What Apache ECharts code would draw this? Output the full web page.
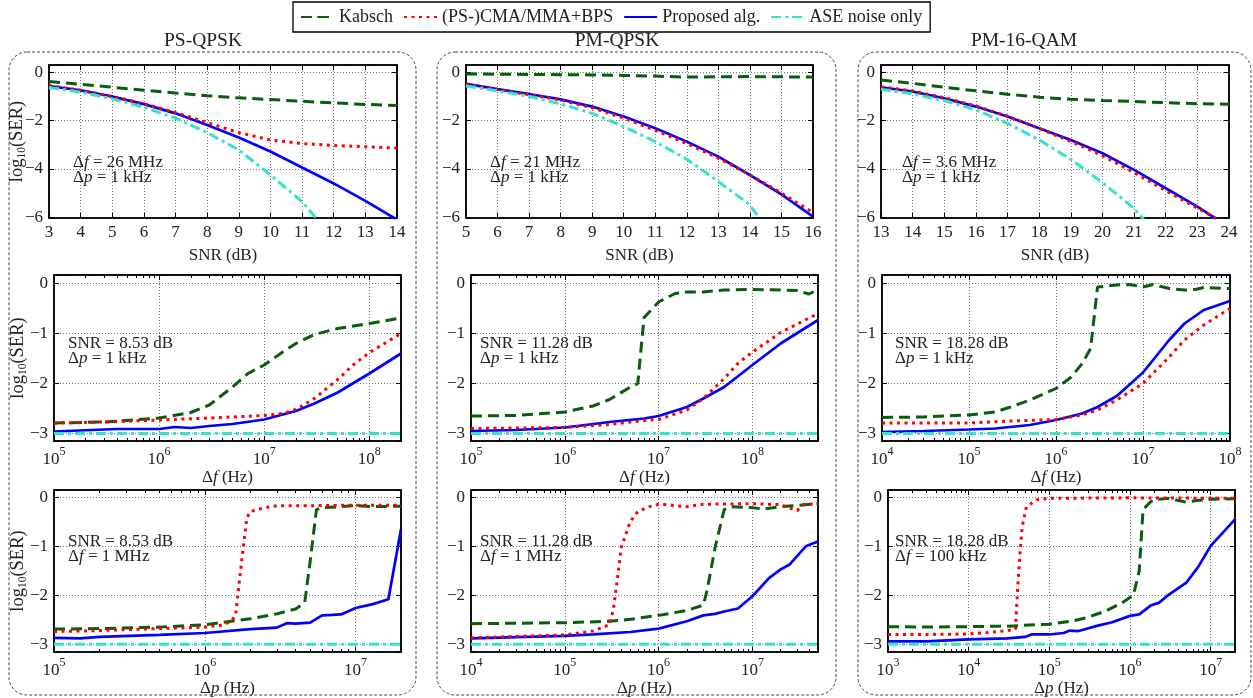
<!DOCTYPE html>
<html>
<head>
<meta charset="utf-8">
<title>log10(SER) vs SNR, Δf, Δp</title>
<script src="https://cdn.jsdelivr.net/npm/echarts@6/dist/echarts.min.js"></script>
<style>
  html, body { margin: 0; padding: 0; background: #fff; }
  #main { width: 1253px; height: 698px; }
</style>
</head>
<body>
<div id="main"></div>
<script>
// ---------- data: row 1, log10(SER) vs SNR (dB) ----------
const snrPSKabsch = [[3,-0.38],[4,-0.5],[5,-0.62],[6,-0.74],[7,-0.86],[8,-0.97],[9,-1.06],[10,-1.13],[11,-1.2],[12,-1.27],[13,-1.33],[14,-1.38]];
const snrPSCma = [[3,-0.55],[4,-0.74],[5,-1.0],[6,-1.3],[7,-1.67],[8,-2.08],[9,-2.5],[10,-2.8],[11,-2.95],[12,-3.03],[13,-3.08],[14,-3.14]];
const snrPSProp = [[3,-0.57],[4,-0.75],[5,-1.01],[6,-1.32],[7,-1.7],[8,-2.18],[9,-2.7],[10,-3.28],[11,-3.94],[12,-4.6],[13,-5.32],[14,-6.1]];
const snrPSAse = [[3,-0.63],[4,-0.82],[5,-1.1],[6,-1.45],[7,-1.9],[8,-2.5],[9,-3.21],[10,-4.25],[11,-5.35],[11.45,-6.05]];

const snrPMKabsch = [[5,-0.07],[6,-0.08],[7,-0.09],[8,-0.1],[9,-0.11],[10,-0.13],[11,-0.16],[12,-0.2],[13,-0.19],[14,-0.18],[15,-0.19],[16,-0.2]];
const snrPMCma = [[5,-0.5],[6,-0.72],[7,-0.93],[8,-1.15],[9,-1.47],[10,-1.9],[11,-2.4],[12,-2.95],[13,-3.55],[14,-4.25],[15,-5.0],[16,-5.8]];
const snrPMProp = [[5,-0.48],[6,-0.7],[7,-0.9],[8,-1.12],[9,-1.42],[10,-1.83],[11,-2.32],[12,-2.87],[13,-3.49],[14,-4.25],[15,-5.05],[16,-5.97]];
const snrPMAse = [[5,-0.57],[6,-0.77],[7,-1.0],[8,-1.31],[9,-1.7],[10,-2.25],[11,-2.87],[12,-3.6],[13,-4.52],[14,-5.49],[14.3,-6.05]];

const snrQAMKabsch = [[13,-0.32],[14,-0.46],[15,-0.62],[16,-0.77],[17,-0.91],[18,-1.03],[19,-1.12],[20,-1.17],[21,-1.21],[22,-1.26],[23,-1.3],[24,-1.32]];
const snrQAMCma = [[13,-0.6],[14,-0.78],[15,-1.05],[16,-1.4],[17,-1.82],[18,-2.33],[19,-2.86],[20,-3.45],[21,-4.15],[22,-4.9],[23,-5.62],[23.6,-6.05]];
const snrQAMProp = [[13,-0.62],[14,-0.8],[15,-1.08],[16,-1.42],[17,-1.83],[18,-2.32],[19,-2.8],[20,-3.35],[21,-4.04],[22,-4.8],[23,-5.56],[23.6,-6.07]];
const snrQAMAse = [[13,-0.7],[14,-0.9],[15,-1.17],[16,-1.56],[17,-2.11],[18,-2.8],[19,-3.6],[20,-4.57],[21,-5.63],[21.3,-6.08]];

// ---------- data: row 2, log10(SER) vs Δf (Hz) ----------
const dfPSKabsch = [[1e5,-2.79],[3e5,-2.77],[1e6,-2.69],[2e6,-2.58],[3e6,-2.43],[5e6,-2.07],[7e6,-1.8],[1e7,-1.63],[1.5e7,-1.37],[2e7,-1.2],[3e7,-1.02],[5e7,-0.9],[1e8,-0.8],[2e8,-0.69]];
const dfPSCma = [[1e5,-2.79],[3e5,-2.77],[1e6,-2.73],[3e6,-2.69],[1e7,-2.64],[1.5e7,-2.6],[2e7,-2.52],[3e7,-2.3],[5e7,-1.92],[7e7,-1.63],[1e8,-1.38],[2e8,-1.0]];
const dfPSProp = [[1e5,-2.96],[3e5,-2.92],[4e5,-2.91],[1e6,-2.91],[1.4e6,-2.87],[2e6,-2.89],[3e6,-2.85],[5e6,-2.81],[1e7,-2.72],[2e7,-2.55],[3e7,-2.4],[5e7,-2.18],[1e8,-1.8],[2e8,-1.4]];
const dfPSAse = [[1e5,-3],[2e8,-3]];

const dfPMKabsch = [[1e5,-2.65],[3e5,-2.64],[1e6,-2.57],[2e6,-2.45],[3e6,-2.32],[5e6,-2.07],[6e6,-2.0],[6.5e6,-1.3],[7e6,-0.68],[1e7,-0.37],[1.5e7,-0.2],[2e7,-0.17],[3e7,-0.17],[5e7,-0.13],[1e8,-0.12],[2e8,-0.13],[3e8,-0.14],[4e8,-0.21],[5e8,-0.12]];
const dfPMCma = [[1e5,-2.9],[1e6,-2.88],[3e6,-2.82],[7e6,-2.74],[1e7,-2.72],[2e7,-2.53],[3e7,-2.3],[5e7,-1.9],[7e7,-1.6],[1e8,-1.37],[2e8,-0.98],[5e8,-0.6]];
const dfPMProp = [[1e5,-2.95],[3e5,-2.93],[1e6,-2.88],[3e6,-2.77],[7e6,-2.7],[1e7,-2.65],[2e7,-2.47],[3e7,-2.3],[5e7,-2.07],[1e8,-1.63],[2e8,-1.2],[5e8,-0.73]];
const dfPMAse = [[1e5,-3],[5e8,-3]];

const dfQAMKabsch = [[1e4,-2.68],[3e4,-2.67],[1e5,-2.63],[2e5,-2.57],[3e5,-2.47],[5e5,-2.33],[1e6,-2.1],[1.5e6,-1.87],[2e6,-1.6],[2.5e6,-1.3],[3e6,-0.07],[5e6,-0.03],[7e6,-0.02],[1e7,-0.07],[1.3e7,-0.02],[2e7,-0.1],[3e7,-0.13],[4e7,-0.12],[5e7,-0.08],[1e8,-0.1]];
const dfQAMCma = [[1e4,-2.79],[1e5,-2.79],[3e5,-2.75],[1e6,-2.72],[2e6,-2.63],[3e6,-2.53],[5e6,-2.33],[1e7,-2.0],[2e7,-1.47],[3e7,-1.13],[5e7,-0.83],[1e8,-0.5]];
const dfQAMProp = [[1e4,-2.97],[3e4,-2.95],[1e5,-2.92],[2e5,-2.9],[5e5,-2.83],[1e6,-2.73],[2e6,-2.6],[3e6,-2.47],[5e6,-2.25],[1e7,-1.78],[2e7,-1.13],[3e7,-0.8],[5e7,-0.53],[1e8,-0.35]];
const dfQAMAse = [[1e4,-3],[1e8,-3]];

// ---------- data: row 3, log10(SER) vs Δp (Hz) ----------
const dpPSKabsch = [[1e5,-2.69],[2e5,-2.68],[5e5,-2.65],[1e6,-2.6],[2e6,-2.48],[3e6,-2.38],[4e6,-2.28],[4.6e6,-2.15],[5e6,-1.3],[5.5e6,-0.25],[6e6,-0.21],[8e6,-0.19],[1e7,-0.17],[1.3e7,-0.19],[2e7,-0.18]];
const dpPSCma = [[1e5,-2.74],[2e5,-2.72],[5e5,-2.68],[1e6,-2.65],[1.3e6,-2.61],[1.5e6,-2.53],[1.6e6,-2.41],[1.7e6,-1.68],[1.8e6,-1.02],[1.9e6,-0.42],[2e6,-0.29],[2.5e6,-0.21],[3e6,-0.17],[5e6,-0.17],[1e7,-0.16],[2e7,-0.16]];
const dpPSProp = [[1e5,-2.87],[1.5e5,-2.88],[2e5,-2.85],[5e5,-2.81],[1e6,-2.77],[2e6,-2.69],[3e6,-2.66],[3.5e6,-2.57],[4e6,-2.58],[5e6,-2.56],[6e6,-2.41],[7e6,-2.4],[8e6,-2.39],[1e7,-2.26],[1.3e7,-2.18],[1.65e7,-2.08],[2e7,-0.65]];
const dpPSAse = [[1e5,-3],[2e7,-3]];

const dpPMKabsch = [[1e4,-2.58],[3e4,-2.57],[1e5,-2.56],[3e5,-2.53],[5e5,-2.49],[1e6,-2.41],[2e6,-2.31],[3e6,-2.2],[3.3e6,-1.88],[4e6,-1.02],[5e6,-0.25],[6e6,-0.19],[1e7,-0.21],[1.3e7,-0.24],[2e7,-0.19],[5e7,-0.13]];
const dpPMCma = [[1e4,-2.87],[3e4,-2.84],[1e5,-2.81],[2e5,-2.73],[3e5,-2.6],[3.3e5,-2.28],[3.7e5,-1.55],[4e5,-1.02],[5e5,-0.49],[6e5,-0.29],[8e5,-0.19],[1e6,-0.14],[2e6,-0.19],[3e6,-0.14],[1e7,-0.13],[2e7,-0.15],[2.5e7,-0.22],[3e7,-0.27],[3.5e7,-0.15],[5e7,-0.13]];
const dpPMProp = [[1e4,-2.88],[1e5,-2.83],[2e5,-2.8],[5e5,-2.75],[1e6,-2.68],[2e6,-2.53],[3e6,-2.41],[4e6,-2.38],[5e6,-2.33],[7e6,-2.27],[1e7,-2.02],[1.5e7,-1.65],[2e7,-1.47],[2.5e7,-1.37],[3.7e7,-1.0],[5e7,-0.9]];
const dpPMAse = [[1e4,-3],[5e7,-3]];

const dpQAMKabsch = [[1e3,-2.64],[3e3,-2.65],[1e4,-2.64],[3e4,-2.63],[1e5,-2.59],[2e5,-2.52],[3e5,-2.45],[5e5,-2.32],[8e5,-2.15],[1.1e6,-2.0],[1.3e6,-1.5],[1.45e6,-0.25],[1.8e6,-0.09],[2e6,-0.05],[3e6,-0.02],[5e6,-0.1],[7e6,-0.06],[1e7,-0.04],[2e7,-0.03]];
const dpQAMCma = [[1e3,-2.8],[3e3,-2.8],[1e4,-2.79],[2e4,-2.75],[3e4,-2.72],[3.8e4,-2.69],[4e4,-2.0],[4.3e4,-1.2],[4.6e4,-0.6],[5.2e4,-0.19],[7e4,-0.05],[1e5,-0.02],[1e6,-0.01],[2e7,-0.02]];
const dpQAMProp = [[1e3,-2.94],[3e3,-2.94],[1e4,-2.9],[3e4,-2.88],[5e4,-2.85],[6e4,-2.8],[1e5,-2.8],[1.5e5,-2.77],[1.8e5,-2.72],[2.3e5,-2.73],[4e5,-2.62],[6e5,-2.55],[1e6,-2.42],[1.3e6,-2.39],[1.8e6,-2.21],[2.3e6,-2.15],[3e6,-1.99],[5e6,-1.74],[7e6,-1.42],[1e7,-0.99],[2e7,-0.45]];
const dpQAMAse = [[1e3,-3],[2e7,-3]];

const panelTitles = ['PS-QPSK', 'PM-QPSK', 'PM-16-QAM'];
const seriesNames = ['Kabsch', '(PS-)CMA/MMA+BPS', 'Proposed alg.', 'ASE noise only'];

// ---------- styling / layout ----------
const FONT = 'Liberation Serif';
const TXT = '#222';
const lineStyles = {
  'Kabsch': { color: '#0b5d0b', type: [11, 6], width: 3 },
  '(PS-)CMA/MMA+BPS': { color: '#ff0000', type: [3, 4.5], width: 3 },
  'Proposed alg.': { color: '#0000ff', type: 'solid', width: 2.7 },
  'ASE noise only': { color: '#36e3c6', type: [10, 4, 3, 4], width: 3 }
};

const yRow = [
  { min: -6.03, max: 0.3, splitNumber: 3 },
  { min: -3.15, max: 0.17, splitNumber: 3 },
  { min: -3.16, max: 0.15, splitNumber: 3 }
];

const panels = [
  { box: [49, 65, 348, 153], row: 0, x: { type: 'value', min: 3, max: 14, interval: 1 },
    lines: [snrPSKabsch, snrPSCma, snrPSProp, snrPSAse], note: [73, 163, 'Δ{i|f} = 26 MHz', 'Δ{i|p} = 1 kHz'] },
  { box: [466, 65, 347, 153], row: 0, x: { type: 'value', min: 5, max: 16, interval: 1 },
    lines: [snrPMKabsch, snrPMCma, snrPMProp, snrPMAse], note: [490, 163, 'Δ{i|f} = 21 MHz', 'Δ{i|p} = 1 kHz'] },
  { box: [881, 65, 348, 153], row: 0, x: { type: 'value', min: 13, max: 24, interval: 1 },
    lines: [snrQAMKabsch, snrQAMCma, snrQAMProp, snrQAMAse], note: [902, 163, 'Δ{i|f} = 3.6 MHz', 'Δ{i|p} = 1 kHz'] },

  { box: [54, 275, 347, 166], row: 1, x: { type: 'log', min: 1e5, max: 2e8 },
    lines: [dfPSKabsch, dfPSCma, dfPSProp, dfPSAse], note: [68, 344, 'SNR = 8.53 dB', 'Δ{i|p} = 1 kHz'] },
  { box: [471, 275, 347, 166], row: 1, x: { type: 'log', min: 1e5, max: 5e8 },
    lines: [dfPMKabsch, dfPMCma, dfPMProp, dfPMAse], note: [480, 344, 'SNR = 11.28 dB', 'Δ{i|p} = 1 kHz'] },
  { box: [882, 275, 348, 166], row: 1, x: { type: 'log', min: 1e4, max: 1e8 },
    lines: [dfQAMKabsch, dfQAMCma, dfQAMProp, dfQAMAse], note: [895, 344, 'SNR = 18.28 dB', 'Δ{i|p} = 1 kHz'] },

  { box: [54, 490, 347, 166], row: 2, x: { type: 'log', min: 1e5, max: 2e7 },
    lines: [dpPSKabsch, dpPSCma, dpPSProp, dpPSAse], note: [68, 542, 'SNR = 8.53 dB', 'Δ{i|f} = 1 MHz'] },
  { box: [471, 490, 347, 166], row: 2, x: { type: 'log', min: 1e4, max: 5e7 },
    lines: [dpPMKabsch, dpPMCma, dpPMProp, dpPMAse], note: [480, 542, 'SNR = 11.28 dB', 'Δ{i|f} = 1 MHz'] },
  { box: [888, 490, 347, 166], row: 2, x: { type: 'log', min: 1e3, max: 2e7 },
    lines: [dpQAMKabsch, dpQAMCma, dpQAMProp, dpQAMAse], note: [895, 542, 'SNR = 18.28 dB', 'Δ{i|f} = 100 kHz'] }
];

const xNames = ['SNR (dB)', 'Δ{i|f} (Hz)', 'Δ{i|p} (Hz)'];
const xNameGap = [29, 21, 21];
const yNameGap = [21, 25, 25];

function isInt(v) { return Math.abs(v - Math.round(v)) < 1e-6; }
function yLabel(v) {
  if (!isInt(v)) return '';
  const n = Math.round(v);
  return n < 0 ? '\u2212' + (-n) : String(n);
}
function logLabel(v) {
  const e = Math.log10(v);
  return isInt(e) ? '{b|10}{e|' + Math.round(e) + '}' : '';
}

const grids = [], xAxes = [], yAxes = [], series = [], graphics = [];

panels.forEach(function (p, i) {
  grids.push({ left: p.box[0], top: p.box[1], width: p.box[2], height: p.box[3],
    show: true, borderColor: '#000', borderWidth: 1.5, containLabel: false });

  const isLog = p.x.type === 'log';
  const tick = { show: true, inside: true, length: 5, lineStyle: { color: '#000', width: 1 } };
  const minor = { show: isLog, splitNumber: 9, length: 3, lineStyle: { color: '#000', width: 1 } };
  const line = { show: true, onZero: false, lineStyle: { color: '#000', width: 1.5 } };

  xAxes.push(Object.assign({}, p.x, {
    gridIndex: i, position: 'bottom',
    axisLine: line, axisTick: tick, minorTick: minor,
    splitLine: { show: true, lineStyle: { color: '#777', type: [1, 2], width: 1 } },
    axisLabel: {
      color: TXT, fontFamily: FONT, fontSize: 17, margin: isLog ? 5 : 6,
      formatter: isLog ? logLabel : function (v) { return isInt(v) ? String(v) : ''; },
      rich: {
        b: { fontFamily: FONT, fontSize: 17, color: TXT, lineHeight: 22, verticalAlign: 'bottom' },
        e: { fontFamily: FONT, fontSize: 12, color: TXT, lineHeight: 22, verticalAlign: 'top' }
      }
    },
    name: xNames[p.row], nameLocation: 'middle', nameGap: xNameGap[p.row],
    nameTextStyle: { color: TXT, fontFamily: FONT, fontSize: 17,
      rich: { i: { fontStyle: 'italic', fontFamily: FONT, fontSize: 17, color: TXT } } }
  }));
  xAxes.push(Object.assign({}, p.x, {
    gridIndex: i, position: 'top',
    axisLine: line, axisTick: tick, minorTick: minor, splitLine: { show: false }, axisLabel: { show: false }
  }));

  const yr = yRow[p.row];
  const yMain = {
    type: 'value', gridIndex: i, position: 'left', min: yr.min, max: yr.max, splitNumber: yr.splitNumber,
    axisLine: line, axisTick: tick,
    splitLine: { show: true, lineStyle: { color: '#777', type: [1, 2], width: 1 } },
    axisLabel: { color: TXT, fontFamily: FONT, fontSize: 17, margin: 6, formatter: yLabel }
  };
  if (i % 3 === 0) {
    Object.assign(yMain, {
      name: '{a|log}{s|10}{a|(SER)}', nameLocation: 'middle', nameRotate: 90,
      nameGap: yNameGap[p.row], nameMoveOverlap: false,
      nameTextStyle: { rich: {
        a: { fontFamily: FONT, fontSize: 18.5, color: TXT, lineHeight: 20, verticalAlign: 'top' },
        s: { fontFamily: FONT, fontSize: 11.5, color: TXT, lineHeight: 20, verticalAlign: 'bottom' }
      } }
    });
  }
  yAxes.push(yMain);
  yAxes.push({
    type: 'value', gridIndex: i, position: 'right', min: yr.min, max: yr.max, splitNumber: yr.splitNumber,
    axisLine: line, axisTick: tick, splitLine: { show: false }, axisLabel: { show: false }
  });

  // draw order: proposed, kabsch, cma, ase
  [2, 0, 1, 3].forEach(function (k) {
    const name = seriesNames[k];
    const s = lineStyles[name];
    series.push({
      name: name, type: 'line', data: p.lines[k],
      xAxisIndex: 2 * i, yAxisIndex: 2 * i,
      symbol: 'none', clip: true, animation: false,
      lineStyle: { color: s.color, type: s.type, width: s.width, cap: 'butt' },
      itemStyle: { color: s.color }
    });
  });

  // annotation
  const richNote = { i: { fontStyle: 'italic', fontFamily: FONT, fontSize: 17, fill: TXT } };
  graphics.push({ type: 'text', x: p.note[0], y: p.note[1], z: 50,
    style: { text: p.note[2], rich: richNote, fontFamily: FONT, fontSize: 17, fill: TXT, verticalAlign: 'middle' } });
  graphics.push({ type: 'text', x: p.note[0], y: p.note[1] + 15, z: 50,
    style: { text: p.note[3], rich: richNote, fontFamily: FONT, fontSize: 17, fill: TXT, verticalAlign: 'middle' } });
});

// rounded dashed boxes + column titles
const boxes = [[9, 52, 407, 643], [437, 52, 399, 643], [858, 52, 393, 643]];
const titleX = [203, 617, 1024];
boxes.forEach(function (b, c) {
  graphics.push({ type: 'rect', z: -1, shape: { x: b[0], y: b[1], width: b[2], height: b[3], r: 18 },
    style: { fill: 'none', stroke: '#444', lineWidth: 1, lineDash: [3, 2] } });
  graphics.push({ type: 'text', x: titleX[c], y: 41, z: 50,
    style: { text: panelTitles[c], fontFamily: FONT, fontSize: 19.5, fill: TXT, align: 'center', verticalAlign: 'middle' } });
});

const chart = echarts.init(document.getElementById('main'));
const option = {
  animation: false,
  backgroundColor: '#fff',
  legend: {
    data: seriesNames, left: 293, top: 2,
    padding: [6, 8, 6, 7], itemGap: 10, itemWidth: 33, itemHeight: 2,
    borderColor: '#000', borderWidth: 1.3, backgroundColor: '#fff',
    textStyle: { fontFamily: FONT, fontSize: 18, color: TXT }
  },
  grid: grids,
  xAxis: xAxes,
  yAxis: yAxes,
  series: series,
  graphic: graphics
};
chart.setOption(option);
</script>
</body>
</html>
